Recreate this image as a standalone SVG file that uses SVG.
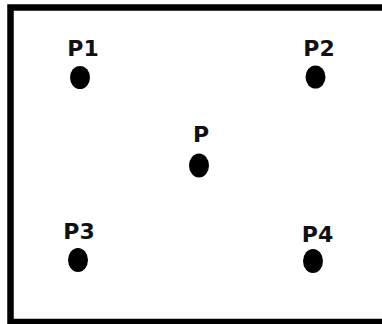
<svg xmlns="http://www.w3.org/2000/svg" width="382" height="324" viewBox="0 0 382 324">
<style>
.lbl{font-family:"DejaVu Sans","Verdana",sans-serif;font-weight:bold;font-size:22px;fill:#111;text-anchor:middle}
.dot{fill:#000}
</style>
<rect x="0" y="0" width="382" height="324" fill="#fff"/>
<rect x="10.5" y="7.5" width="390" height="314.5" fill="none" stroke="#000" stroke-width="6.5"/>
<g id="P1"><text class="lbl" x="83" y="56">P1</text><ellipse class="dot" cx="80" cy="77.5" rx="10" ry="11.5"/></g>
<g id="P2"><text class="lbl" x="319" y="56">P2</text><ellipse class="dot" cx="315.5" cy="77" rx="10" ry="11.5"/></g>
<g id="P"><text class="lbl" x="201" y="142">P</text><ellipse class="dot" cx="199" cy="165.5" rx="10" ry="12"/></g>
<g id="P3"><text class="lbl" x="79" y="239">P3</text><ellipse class="dot" cx="78" cy="260" rx="10" ry="12"/></g>
<g id="P4"><text class="lbl" x="317.5" y="242">P4</text><ellipse class="dot" cx="313" cy="261" rx="10" ry="12"/></g>
<g id="connectors"></g>
</svg>
